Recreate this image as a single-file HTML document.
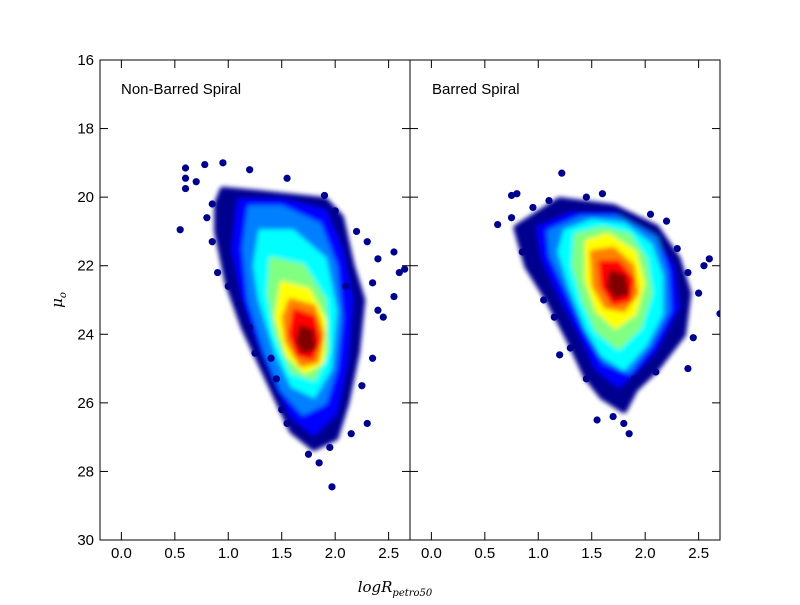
<!DOCTYPE html>
<html><head><meta charset="utf-8"><style>
body{margin:0;background:#fff}
svg text{font-family:"Liberation Sans",sans-serif;font-size:15px}
</style></head><body>
<svg id="chart" width="800" height="600">
<defs>
<clipPath id="cl"><rect x="100" y="60" width="310" height="480"/></clipPath>
<clipPath id="cr"><rect x="410" y="60" width="310" height="480"/></clipPath>
<filter id="bl" x="-20%" y="-20%" width="140%" height="140%"><feGaussianBlur stdDeviation="2.5"/></filter>
</defs>
<rect x="0" y="0" width="800" height="600" fill="#fff"/>
<g id="left" clip-path="url(#cl)"></g>
<g id="right" clip-path="url(#cr)"></g>
<g id="axes"></g>
</svg>
<script>
const colors=["#00008f","#0000ff","#0080ff","#00ffff","#80ff80","#ffff00","#ff8000","#ff0000","#800000"];
const leftLayers=[
[[0.95,19.8],[1.3,19.9],[1.9,20.1],[2.05,20.6],[2.15,22],[2.25,23],[2.2,24.5],[2.1,26],[2.0,27],[1.8,27.3],[1.6,26.8],[1.45,25.8],[1.3,24.8],[1.15,23.8],[1.0,22.5],[0.9,21],[0.9,20.2]],
[[1.1,20.1],[1.5,20.1],[1.9,20.4],[2.05,21.5],[2.15,23],[2.1,24.8],[2.0,26.3],[1.8,26.9],[1.6,26.4],[1.45,25.4],[1.3,24.3],[1.15,23],[1.05,21.5]],
[[1.2,20.3],[1.5,20.3],[1.85,20.8],[2.0,22],[2.05,23.5],[2.0,25],[1.9,26],[1.7,26.3],[1.5,25.6],[1.35,24.5],[1.2,23],[1.15,21.5]],
[[1.3,21],[1.6,21],[1.9,21.8],[2.0,23.3],[1.95,25],[1.8,25.8],[1.6,25.5],[1.45,24.5],[1.3,23],[1.25,22]],
[[1.4,21.8],[1.7,22],[1.9,23],[1.92,24.5],[1.8,25.3],[1.6,25.1],[1.45,24],[1.38,22.8]],
[[1.5,22.5],[1.75,22.7],[1.9,23.6],[1.88,24.8],[1.72,25.1],[1.55,24.6],[1.45,23.5]],
[[1.58,23],[1.8,23.2],[1.88,24],[1.83,24.8],[1.68,24.9],[1.55,24.2],[1.52,23.5]],
[[1.62,23.3],[1.8,23.5],[1.85,24.2],[1.78,24.7],[1.65,24.6],[1.58,24]],
[[1.68,23.8],[1.78,23.9],[1.8,24.4],[1.7,24.5],[1.65,24.2]]];
const rightLayers=[
[[0.8,20.9],[1.2,20.1],[1.7,20.3],[2.1,20.9],[2.3,21.8],[2.4,22.8],[2.35,24],[2.1,25],[1.9,25.6],[1.8,26.2],[1.6,25.8],[1.45,25.2],[1.3,24.2],[1.1,23],[0.9,22]],
[[1.0,20.9],[1.3,20.5],[1.7,20.5],[2.05,21.1],[2.25,22],[2.3,23.2],[2.1,24.4],[1.9,25.1],[1.75,25.5],[1.55,25],[1.4,24],[1.2,22.8],[1.05,21.8]],
[[1.1,21.0],[1.4,20.6],[1.75,20.6],[2.1,21.2],[2.2,22.2],[2.22,23.3],[2.05,24.3],[1.85,25.1],[1.62,24.8],[1.45,23.9],[1.27,22.7],[1.12,21.7]],
[[1.25,21],[1.5,20.7],[1.8,20.8],[2.05,21.4],[2.15,22.3],[2.15,23.4],[2.0,24.3],[1.8,25.0],[1.6,24.6],[1.45,23.8],[1.3,22.6],[1.2,21.6]],
[[1.35,21.1],[1.6,20.9],[1.85,21.1],[2.0,21.8],[2.05,22.8],[1.95,23.8],[1.75,24.4],[1.55,23.9],[1.42,23],[1.33,22]],
[[1.45,21.3],[1.65,21.1],[1.9,21.6],[1.98,22.5],[1.9,23.4],[1.72,23.8],[1.55,23.3],[1.45,22.4]],
[[1.5,21.6],[1.7,21.5],[1.88,22],[1.92,22.8],[1.8,23.3],[1.63,23.2],[1.52,22.6]],
[[1.58,21.9],[1.75,21.9],[1.88,22.4],[1.85,23],[1.7,23.1],[1.6,22.6]],
[[1.68,22.2],[1.8,22.3],[1.83,22.8],[1.72,22.9],[1.66,22.6]]];
const leftOutliers=[[0.55,20.95],[0.6,19.15],[0.6,19.45],[0.6,19.75],[0.78,19.05],[0.7,19.55],[0.95,19.0],[0.85,20.2],[1.2,19.2],[1.55,19.45],[0.8,20.6],[0.85,21.3],[0.9,22.2],[1.0,22.6],[1.1,23.1],[1.2,23.8],[1.25,24.55],[1.4,24.7],[1.45,25.3],[1.5,26.2],[1.55,26.6],[1.75,27.5],[1.85,27.75],[1.97,28.45],[1.95,27.3],[2.15,26.9],[2.3,26.6],[2.25,25.5],[2.35,24.7],[2.4,23.3],[2.45,23.5],[2.35,22.5],[2.55,22.9],[2.6,22.2],[2.65,22.1],[2.55,21.6],[2.3,21.3],[2.4,21.8],[2.2,21.0],[2.0,20.4],[1.9,19.95],[2.1,22.6]];
const rightOutliers=[[0.62,20.8],[0.75,19.95],[0.8,19.9],[0.75,20.6],[0.85,21.6],[1.0,22.0],[1.05,23.0],[1.15,23.5],[1.2,24.6],[1.3,24.4],[1.45,25.3],[1.55,26.5],[1.7,26.4],[1.8,26.6],[1.85,26.9],[1.9,25.3],[2.0,25.1],[2.1,25.1],[2.4,25.0],[2.45,24.1],[2.5,22.8],[2.7,23.4],[2.6,21.8],[2.55,22.0],[2.4,22.2],[2.3,21.5],[2.2,20.7],[2.05,20.5],[1.6,19.9],[1.45,20.0],[1.22,19.3],[1.1,20.1],[0.95,20.3]];
const xTicks=["0.0","0.5","1.0","1.5","2.0","2.5"];
const yTicks=["16","18","20","22","24","26","28","30"];
const ns="http://www.w3.org/2000/svg";
const X0=-0.2,X1=2.7,Y0=16,Y1=30,PW=310,TOP=60,H=480;
function sx(left,v){return left+(v-X0)/(X1-X0)*PW;}
function sy(v){return TOP+(v-Y0)/(Y1-Y0)*H;}
function mk(t,a,p){const e=document.createElementNS(ns,t);for(const k in a)e.setAttribute(k,a[k]);p.appendChild(e);return e;}
function drawPanel(g,left,layers,outs){
  const lg=mk("g",{filter:"url(#bl)"},g);
  layers.forEach((poly,i)=>{
    const pts=poly.map(p=>sx(left,p[0])+","+sy(p[1])).join(" ");
    const e=mk("polygon",{points:pts,fill:colors[i],stroke:colors[i],"stroke-width":i==0?7:4,"stroke-linejoin":"round"},lg);
    
    
  });
  outs.forEach(p=>{
    const c=mk("circle",{cx:sx(left,p[0]),cy:sy(p[1]),r:3.6,fill:"#00008f"},g);
    
    
  });
}
drawPanel(document.getElementById("left"),100,leftLayers,leftOutliers);
drawPanel(document.getElementById("right"),410,rightLayers,rightOutliers);
const ax=document.getElementById("axes");
[100,410].forEach((left,pi)=>{
  const r=mk("rect",{x:left,y:TOP,width:PW,height:H,fill:"none",stroke:"#000","stroke-width":1},ax);
  
  
  xTicks.forEach(t=>{
    const x=sx(left,parseFloat(t));
    mk("line",{x1:x,x2:x,y1:540,y2:532,stroke:"#000"},ax);
    mk("line",{x1:x,x2:x,y1:60,y2:68,stroke:"#000"},ax);
    const tx=mk("text",{x:x,y:558,"text-anchor":"middle"},ax);tx.textContent=t;
    
    
  });
  yTicks.forEach(t=>{
    const y=sy(parseFloat(t));
    mk("line",{x1:left,x2:left+8,y1:y,y2:y,stroke:"#000"},ax);
    mk("line",{x1:left+PW,x2:left+PW-8,y1:y,y2:y,stroke:"#000"},ax);
    if(pi==0){const ty=mk("text",{x:94,y:y+5,"text-anchor":"end"},ax);ty.textContent=t;
      
      }
  });
});
const t1=mk("text",{x:121,y:94},ax);t1.textContent="Non-Barred Spiral";


const t2=mk("text",{x:432,y:94},ax);t2.textContent="Barred Spiral";


</script>
<svg style="position:absolute;left:0;top:0" width="800" height="600">
<text x="62" y="300" transform="rotate(-90 62 300)" text-anchor="middle" style="font-family:'DejaVu Serif',serif;font-style:italic;font-size:15px">μ<tspan font-size="10" dy="4">o</tspan></text>
<text x="395" y="592" text-anchor="middle" style="font-family:'DejaVu Serif',serif;font-style:italic;font-size:15px">logR<tspan font-size="10" dy="4">petro50</tspan></text>
</svg>
</body></html>
